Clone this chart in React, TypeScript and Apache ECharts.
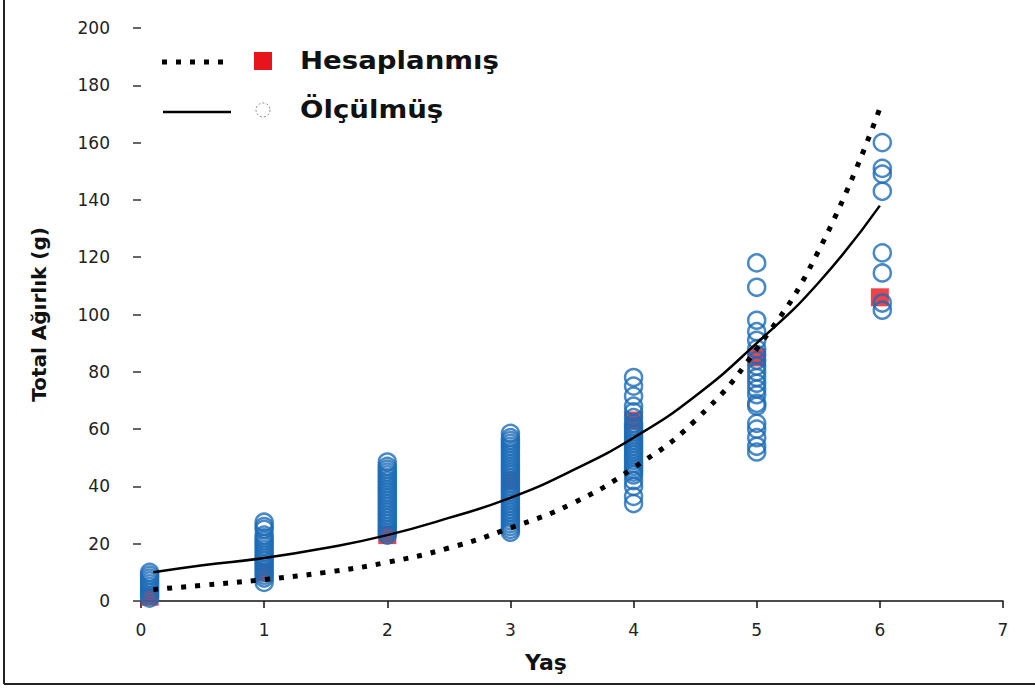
import React, { useEffect, useRef } from "react";
import * as echarts from "echarts";

// Tick labels
const xTicks = [0, 1, 2, 3, 4, 5, 6, 7];
const yTicks = [0, 20, 40, 60, 80, 100, 120, 140, 160, 180, 200];

// Hesaplanmış (calculated) values per age
const calcAges = [0.07, 1, 2, 3, 4, 5, 6];
const calcValues = [1.5, 10, 23, 42, 63, 85, 106];

// Ölçülmüş (measured) values per age
const measuredAge0 = [1, 2, 3, 4, 5, 6, 7, 8, 9, 10];
const measuredAge1 = [6.5, 8, 9, 10, 11, 12, 13, 14, 15, 16, 17, 18, 19, 20, 21, 22, 23, 25, 26, 27.5];
const measuredAge2 = [23, 24, 25, 26, 27, 28, 29, 30, 31, 32, 33, 34, 35, 36, 37, 38, 39, 40, 41, 42, 43, 44, 45, 46, 47, 48.5];
const measuredAge3 = [24, 25, 26, 27, 28, 29, 30, 31, 32, 33, 34, 35, 36, 37, 38, 39, 40, 41, 42, 43, 44, 45, 46, 47, 48, 49, 50, 51, 52, 53, 54, 55, 56, 57, 58.5];
const measuredAge4 = [34, 36.5, 40, 42, 44, 45, 46, 47, 48, 49, 50, 51, 52, 53, 54, 55, 56, 57, 58, 59, 60, 61, 62, 64, 66, 68, 71.5, 75, 78];
const measuredAge5 = [52, 54, 57, 60, 62, 68, 69, 72, 74, 76, 78, 80, 82, 84, 86, 88, 91, 94, 98, 109.5, 118];
const measuredAge6 = [101.5, 104, 114.5, 121.5, 143, 149, 151, 160];
const measuredAges = [0.07, 1, 2, 3, 4, 5, 6.02];

// Dotted curve (Hesaplanmış model)
const dottedX = [0.1, 0.5, 1, 1.5, 2, 2.5, 3, 3.5, 4, 4.5, 5, 5.5, 6];
const dottedY = [4, 5.5, 7.5, 10, 13.5, 18.5, 25.5, 34, 46.5, 63, 88, 122, 172];

// Solid curve (Ölçülmüş fit)
const solidX = [0.1, 0.5, 1, 1.5, 2, 2.5, 3, 3.5, 4, 4.5, 5, 5.5, 6];
const solidY = [10, 12.5, 15, 18.5, 23, 29, 36, 45.5, 57, 71.5, 90, 111, 138];

const FONT = "DejaVu Sans";

export default function App() {
  const ref = useRef<HTMLDivElement>(null);

  useEffect(() => {
    if (!ref.current) return;
    const chart = echarts.init(ref.current, undefined, { renderer: "svg" });

    const measuredGroups = [measuredAge0, measuredAge1, measuredAge2, measuredAge3, measuredAge4, measuredAge5, measuredAge6];
    const measuredData: number[][] = [];
    measuredGroups.forEach((g, i) => g.forEach((v) => measuredData.push([measuredAges[i], v])));

    const calcData = calcAges.map((a, i) => [a, calcValues[i]]);
    const dottedData = dottedX.map((x, i) => [x, dottedY[i]]);
    const solidData = solidX.map((x, i) => [x, solidY[i]]);

    chart.setOption({
      animation: false,
      backgroundColor: "#ffffff",
      grid: { left: 141, top: 28, width: 862, height: 573, containLabel: false },
      xAxis: {
        type: "value",
        min: xTicks[0],
        max: xTicks[xTicks.length - 1],
        interval: 1,
        name: "Yaş",
        nameLocation: "middle",
        nameGap: 50,
        nameTextStyle: { fontFamily: FONT, fontWeight: "bold", fontSize: 22, color: "#111", padding: [0, 52, 0, 0] },
        axisLine: { show: true, lineStyle: { color: "#111", width: 1.5 } },
        axisTick: { show: true, length: 7, lineStyle: { color: "#111", width: 1.5 } },
        axisLabel: { fontFamily: FONT, fontSize: 17, color: "#222", margin: 20 },
        splitLine: { show: false },
      },
      yAxis: {
        type: "value",
        min: yTicks[0],
        max: yTicks[yTicks.length - 1],
        interval: 20,
        name: "Total Ağırlık (g)",
        nameLocation: "middle",
        nameGap: 92,
        nameRotate: 90,
        nameTextStyle: { fontFamily: FONT, fontWeight: "bold", fontSize: 20, color: "#111" },
        axisLine: { show: false },
        axisTick: { show: true, length: 8, lineStyle: { color: "#333", width: 1.5 } },
        axisLabel: { fontFamily: FONT, fontSize: 17, color: "#222", margin: 31 },
        splitLine: { show: false },
      },
      series: [
        {
          name: "Hesaplanmış",
          type: "scatter",
          data: calcData,
          symbol: "rect",
          symbolSize: 18,
          itemStyle: { color: "#e8141c" },
          z: 2,
        },
        {
          name: "Ölçülmüş",
          type: "scatter",
          data: measuredData,
          symbol: "circle",
          symbolSize: 17,
          itemStyle: { color: "rgba(255,255,255,0)", borderColor: "#1b6cb6", borderWidth: 2.5 },
          z: 3,
        },
        {
          name: "Hesaplanmış model",
          type: "line",
          data: dottedData,
          smooth: true,
          showSymbol: false,
          symbol: "none",
          lineStyle: { color: "#000", width: 5, type: [5, 9], cap: "butt" },
          z: 4,
        },
        {
          name: "Ölçülmüş fit",
          type: "line",
          data: solidData,
          smooth: true,
          showSymbol: false,
          symbol: "none",
          lineStyle: { color: "#000", width: 2.5, type: "solid" },
          z: 5,
        },
      ],
      graphic: [
        { type: "line", shape: { x1: 4, y1: 0, x2: 4, y2: 684 }, style: { stroke: "#222", lineWidth: 2 } },
        { type: "line", shape: { x1: 4, y1: 684, x2: 1035, y2: 684 }, style: { stroke: "#222", lineWidth: 2 } },
        { type: "line", shape: { x1: 162, y1: 62, x2: 232, y2: 62 }, style: { stroke: "#000", lineWidth: 5, lineDash: [5, 9] } },
        { type: "rect", shape: { x: 254, y: 52, width: 18, height: 18 }, style: { fill: "#e8141c" } },
        {
          type: "text", x: 300, y: 61, scaleX: 1.15,
          style: { text: "Hesaplanmış", font: `bold 24px '${FONT}'`, fill: "#111", textVerticalAlign: "middle", verticalAlign: "middle" },
        },
        { type: "line", shape: { x1: 163, y1: 112, x2: 231, y2: 112 }, style: { stroke: "#000", lineWidth: 2.5 } },
        { type: "circle", shape: { cx: 263, cy: 110, r: 7 }, style: { fill: "none", stroke: "#888", lineWidth: 1, lineDash: [2, 2] } },
        {
          type: "text", x: 300, y: 110, scaleX: 1.15,
          style: { text: "Ölçülmüş", font: `bold 24px '${FONT}'`, fill: "#111", textVerticalAlign: "middle", verticalAlign: "middle" },
        },
      ],
    });

    return () => chart.dispose();
  }, []);

  return (
    <div
      ref={ref}
      style={{ position: "absolute", left: 0, top: 0, width: 1035, height: 688, background: "#fff" }}
    />
  );
}
